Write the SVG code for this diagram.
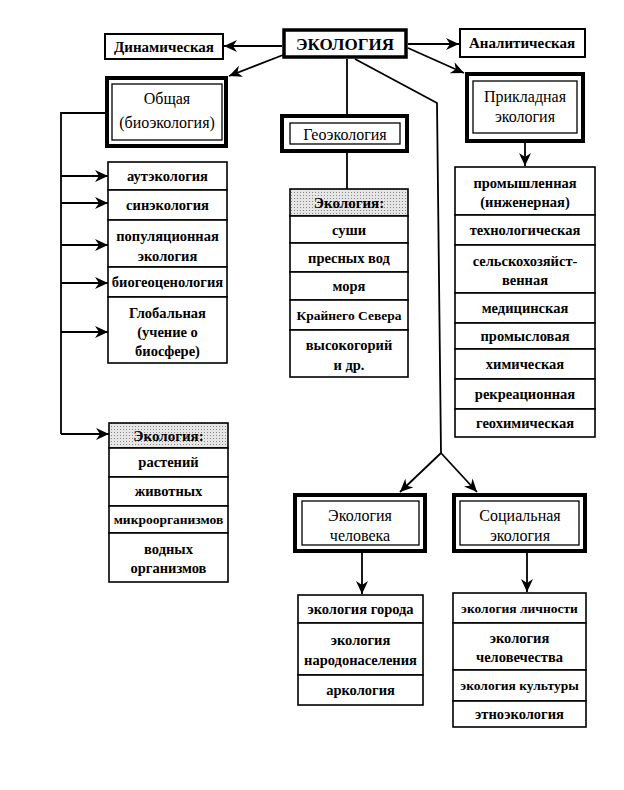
<svg xmlns="http://www.w3.org/2000/svg" width="624" height="790" viewBox="0 0 624 790" font-family="'Liberation Serif', 'DejaVu Serif', serif">
<style>
text{font-family:'Liberation Serif','DejaVu Serif',serif;fill:#000;text-anchor:middle;dominant-baseline:central}
.it{font-size:14.5px;font-weight:bold}
.hd{font-size:15px;font-weight:bold}
.nd{font-size:16px}
.sm{font-size:15px;font-weight:bold}
.cell{fill:#fff;stroke:#000;stroke-width:1.6}
.shade{fill:url(#dots);stroke:#000;stroke-width:1.6}
.thick{fill:#fff;stroke:#000;stroke-width:4}
.thin{fill:none;stroke:#000;stroke-width:1.3}
.box{fill:#fff;stroke:#000;stroke-width:2}
.ln{fill:none;stroke:#000;stroke-width:1.8}
.ar{fill:none;stroke:#000;stroke-width:1.8;marker-end:url(#ah)}
</style>
<defs>
<marker id="ah" markerUnits="userSpaceOnUse" markerWidth="14" markerHeight="12" refX="13" refY="6" orient="auto">
<path d="M0,0 L13,6 L0,12 L4,6 z" fill="#000"/>
</marker>
<pattern id="dots" width="3" height="3" patternUnits="userSpaceOnUse">
<rect width="3" height="3" fill="#e6e6e6"/>
<rect width="1" height="1" fill="#888"/>
</pattern>
</defs>
<rect width="624" height="790" fill="#fff"/>

<g id="connectors">
<path class="ar" d="M282,46 L224,46"/>
<path class="ar" d="M283,55 L229,76"/>
<path class="ar" d="M408,44 L459,44"/>
<path class="ar" d="M408,48 L464,73"/>
<path class="ln" d="M347,59 L347,114"/>
<path class="ln" d="M347,153 L347,189"/>
<path class="ln" d="M355,59 L437,103 L441,453"/>
<path class="ar" d="M441,453 L400,492"/>
<path class="ar" d="M441,453 L477,492"/>
<path class="ar" d="M525,143 L525,166"/>
<path class="ln" d="M105,113 L61,113 L61,434"/>
<path class="ar" d="M61,434 L109,434"/>
<path class="ar" d="M61,176 L108,176"/>
<path class="ar" d="M61,203 L108,203"/>
<path class="ar" d="M61,245 L108,245"/>
<path class="ar" d="M61,283 L108,283"/>
<path class="ar" d="M61,332 L108,332"/>
<path class="ar" d="M362,553 L362,594"/>
<path class="ar" d="M527,553 L527,592"/>
</g>

<g id="ekologiya">
<rect x="284" y="30" width="122" height="27" fill="#fff" stroke="#000" stroke-width="3.5"/>
<text x="345" y="44" style="font-size:17px;font-weight:bold">ЭКОЛОГИЯ</text>
</g>
<g id="dinamicheskaya">
<rect class="box" x="105" y="34" width="118" height="25"/>
<text class="sm" x="164" y="47">Динамическая</text>
</g>
<g id="analiticheskaya">
<rect class="box" x="460" y="29" width="125" height="28"/>
<text class="sm" x="522" y="43">Аналитическая</text>
</g>

<g id="obshchaya">
<rect class="thick" x="107" y="78" width="119" height="68"/>
<rect class="thin" x="112" y="84" width="110" height="56"/>
<text class="nd" x="167" y="98">Общая</text>
<text class="nd" x="167" y="122">(биоэкология)</text>
</g>

<g id="geoekologiya">
<rect class="thick" x="282" y="116" width="125" height="35"/>
<rect class="thin" x="290" y="123" width="110" height="21"/>
<text class="nd" x="345" y="134">Геоэкология</text>
</g>

<g id="prikladnaya">
<rect class="thick" x="467" y="74" width="116" height="67"/>
<rect class="thin" x="473" y="81" width="104" height="52"/>
<text class="nd" x="525" y="96">Прикладная</text>
<text class="nd" x="525" y="116">экология</text>
</g>

<g id="obshchaya-list">
<rect class="cell" x="108" y="162" width="119" height="28"/>
<text class="it" x="167.5" y="176">аутэкология</text>
<rect class="cell" x="108" y="190" width="119" height="30"/>
<text class="it" x="167.5" y="205">синэкология</text>
<rect class="cell" x="108" y="220" width="119" height="47"/>
<text class="it" x="167.5" y="236">популяционная</text>
<text class="it" x="167.5" y="256">экология</text>
<rect class="cell" x="108" y="267" width="119" height="30"/>
<text class="it" x="167.5" y="282">биогеоценология</text>
<rect class="cell" x="108" y="297" width="119" height="66"/>
<text class="it" x="167.5" y="313">Глобальная</text>
<text class="it" x="167.5" y="332">(учение о</text>
<text class="it" x="167.5" y="351">биосфере)</text>
</g>

<g id="geo-list">
<rect class="shade" x="290" y="189" width="118" height="27"/>
<text class="hd" x="349" y="203">Экология:</text>
<rect class="cell" x="290" y="216" width="118" height="27"/>
<text class="it" x="349" y="229.5">суши</text>
<rect class="cell" x="290" y="243" width="118" height="29"/>
<text class="it" x="349" y="257.5">пресных вод</text>
<rect class="cell" x="290" y="272" width="118" height="28"/>
<text class="it" x="349" y="286">моря</text>
<rect class="cell" x="290" y="300" width="118" height="30"/>
<text class="it" x="349" y="315" style="font-size:13.5px">Крайнего Севера</text>
<rect class="cell" x="290" y="330" width="118" height="47"/>
<text class="it" x="349" y="345">высокогорий</text>
<text class="it" x="349" y="365">и др.</text>
</g>

<g id="prikladnaya-list">
<rect class="cell" x="455" y="167" width="140" height="48"/>
<text class="it" x="525" y="183">промышленная</text>
<text class="it" x="525" y="202">(инженерная)</text>
<rect class="cell" x="455" y="215" width="140" height="30"/>
<text class="it" x="525" y="230">технологическая</text>
<rect class="cell" x="455" y="245" width="140" height="48"/>
<text class="it" x="525" y="261">сельскохозяйст-</text>
<text class="it" x="525" y="280">венная</text>
<rect class="cell" x="455" y="293" width="140" height="30"/>
<text class="it" x="525" y="308">медицинская</text>
<rect class="cell" x="455" y="323" width="140" height="26"/>
<text class="it" x="525" y="336">промысловая</text>
<rect class="cell" x="455" y="349" width="140" height="30"/>
<text class="it" x="525" y="364">химическая</text>
<rect class="cell" x="455" y="379" width="140" height="30"/>
<text class="it" x="525" y="394">рекреационная</text>
<rect class="cell" x="455" y="409" width="140" height="28"/>
<text class="it" x="525" y="423">геохимическая</text>
</g>

<g id="organism-list">
<rect class="shade" x="109" y="423" width="119" height="25"/>
<text class="hd" x="168.5" y="436">Экология:</text>
<rect class="cell" x="109" y="448" width="119" height="29"/>
<text class="it" x="168.5" y="462">растений</text>
<rect class="cell" x="109" y="477" width="119" height="29"/>
<text class="it" x="168.5" y="491">животных</text>
<rect class="cell" x="109" y="506" width="119" height="27"/>
<text class="it" x="168.5" y="519.5" style="font-size:13.5px">микроорганизмов</text>
<rect class="cell" x="109" y="533" width="119" height="49"/>
<text class="it" x="168.5" y="549">водных</text>
<text class="it" x="168.5" y="568">организмов</text>
</g>

<g id="chelovek">
<rect class="thick" x="295" y="495" width="130" height="56"/>
<rect class="thin" x="302" y="501" width="117" height="44"/>
<text class="nd" x="360" y="515">Экология</text>
<text class="nd" x="360" y="535">человека</text>
</g>

<g id="socialnaya">
<rect class="thick" x="454" y="495" width="131" height="56"/>
<rect class="thin" x="460" y="501" width="119" height="44"/>
<text class="nd" x="520" y="515">Социальная</text>
<text class="nd" x="520" y="535">экология</text>
</g>

<g id="chelovek-list">
<rect class="cell" x="298" y="595" width="125" height="28"/>
<text class="it" x="360.5" y="609">экология города</text>
<rect class="cell" x="298" y="623" width="125" height="52"/>
<text class="it" x="360.5" y="640">экология</text>
<text class="it" x="360.5" y="660">народонаселения</text>
<rect class="cell" x="298" y="675" width="125" height="30"/>
<text class="it" x="360.5" y="690">аркология</text>
</g>

<g id="socialnaya-list">
<rect class="cell" x="453" y="593" width="133" height="30"/>
<text class="it" x="519.5" y="608" style="font-size:13.5px">экология личности</text>
<rect class="cell" x="453" y="623" width="133" height="47"/>
<text class="it" x="519.5" y="638">экология</text>
<text class="it" x="519.5" y="657">человечества</text>
<rect class="cell" x="453" y="670" width="133" height="31"/>
<text class="it" x="519.5" y="685.5" style="font-size:13.5px">экология культуры</text>
<rect class="cell" x="453" y="701" width="133" height="26"/>
<text class="it" x="519.5" y="714">этноэкология</text>
</g>
</svg>
